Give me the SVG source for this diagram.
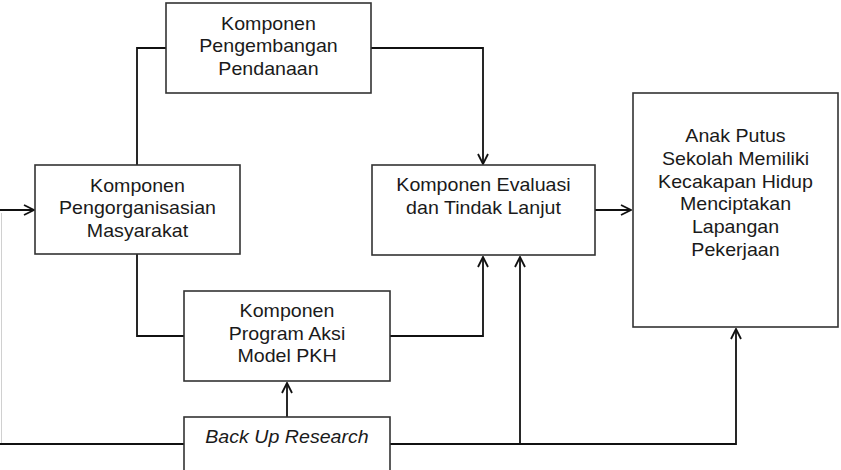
<svg xmlns="http://www.w3.org/2000/svg" width="841" height="470" viewBox="0 0 841 470">
<style>
.box{fill:#fff;stroke:#333;stroke-width:1.6}
.ln{fill:none;stroke:#111;stroke-width:1.8}
.faint{fill:none;stroke:#d0d0d0;stroke-width:1}
.arr{marker-end:url(#ah)}
text{font-family:"Liberation Sans",Arial,sans-serif;font-size:18px;fill:#1a1a1a;text-anchor:middle}
.it{font-style:italic}
</style>
<defs>
<marker id="ah" viewBox="0 0 12 12" refX="11" refY="6" markerWidth="12" markerHeight="12" markerUnits="userSpaceOnUse" orient="auto">
<path d="M1,1 L11,6 L1,11" fill="none" stroke="#111" stroke-width="1.8"/>
</marker>
</defs>
<rect width="841" height="470" fill="#fff"/>
<g id="connectors">
<path class="ln arr" d="M0,210 H34"/>
<path class="faint" d="M1.5,213 V443"/>
<path class="ln" d="M0,444 H184"/>
<path class="ln" d="M166,48 H137 V165"/>
<path class="ln" d="M137,254 V336 H184"/>
<path class="ln arr" d="M371,48 H483 V164"/>
<path class="ln arr" d="M390,336 H483 V257"/>
<path class="ln arr" d="M287,417 V383"/>
<path class="ln arr" d="M390,444 H736 V329"/>
<path class="ln arr" d="M520,444 V257"/>
<path class="ln arr" d="M595,210 H631"/>
</g>
<g id="pendanaan">
<rect class="box" x="166" y="3" width="205" height="90"/>
<text transform="translate(268.5,0) scale(1.09,1)"><tspan x="0" y="30">Komponen</tspan><tspan x="0" y="52.5">Pengembangan</tspan><tspan x="0" y="75">Pendanaan</tspan></text>
</g>
<g id="pengorganisasian">
<rect class="box" x="35" y="165" width="205" height="89"/>
<text transform="translate(137.5,0) scale(1.09,1)"><tspan x="0" y="192.5">Komponen</tspan><tspan x="0" y="214.5">Pengorganisasian</tspan><tspan x="0" y="237">Masyarakat</tspan></text>
</g>
<g id="evaluasi">
<rect class="box" x="372" y="165" width="223" height="90"/>
<text transform="translate(483.5,0) scale(1.09,1)"><tspan x="0" y="191.5">Komponen Evaluasi</tspan><tspan x="0" y="214">dan Tindak Lanjut</tspan></text>
</g>
<g id="pkh">
<rect class="box" x="184" y="291" width="206" height="90"/>
<text transform="translate(287,0) scale(1.09,1)"><tspan x="0" y="317.5">Komponen</tspan><tspan x="0" y="340">Program Aksi</tspan><tspan x="0" y="362.5">Model PKH</tspan></text>
</g>
<g id="backup">
<rect class="box" x="184" y="417" width="206" height="60"/>
<text class="it" transform="translate(287,0) scale(1.09,1)"><tspan x="0" y="443.5">Back Up Research</tspan></text>
</g>
<g id="hasil">
<rect class="box" x="633" y="93" width="205" height="234"/>
<text transform="translate(735.5,0) scale(1.09,1)"><tspan x="0" y="142.5">Anak Putus</tspan><tspan x="0" y="165.5">Sekolah Memiliki</tspan><tspan x="0" y="188.5">Kecakapan Hidup</tspan><tspan x="0" y="210.5">Menciptakan</tspan><tspan x="0" y="233.5">Lapangan</tspan><tspan x="0" y="256">Pekerjaan</tspan></text>
</g>
</svg>
